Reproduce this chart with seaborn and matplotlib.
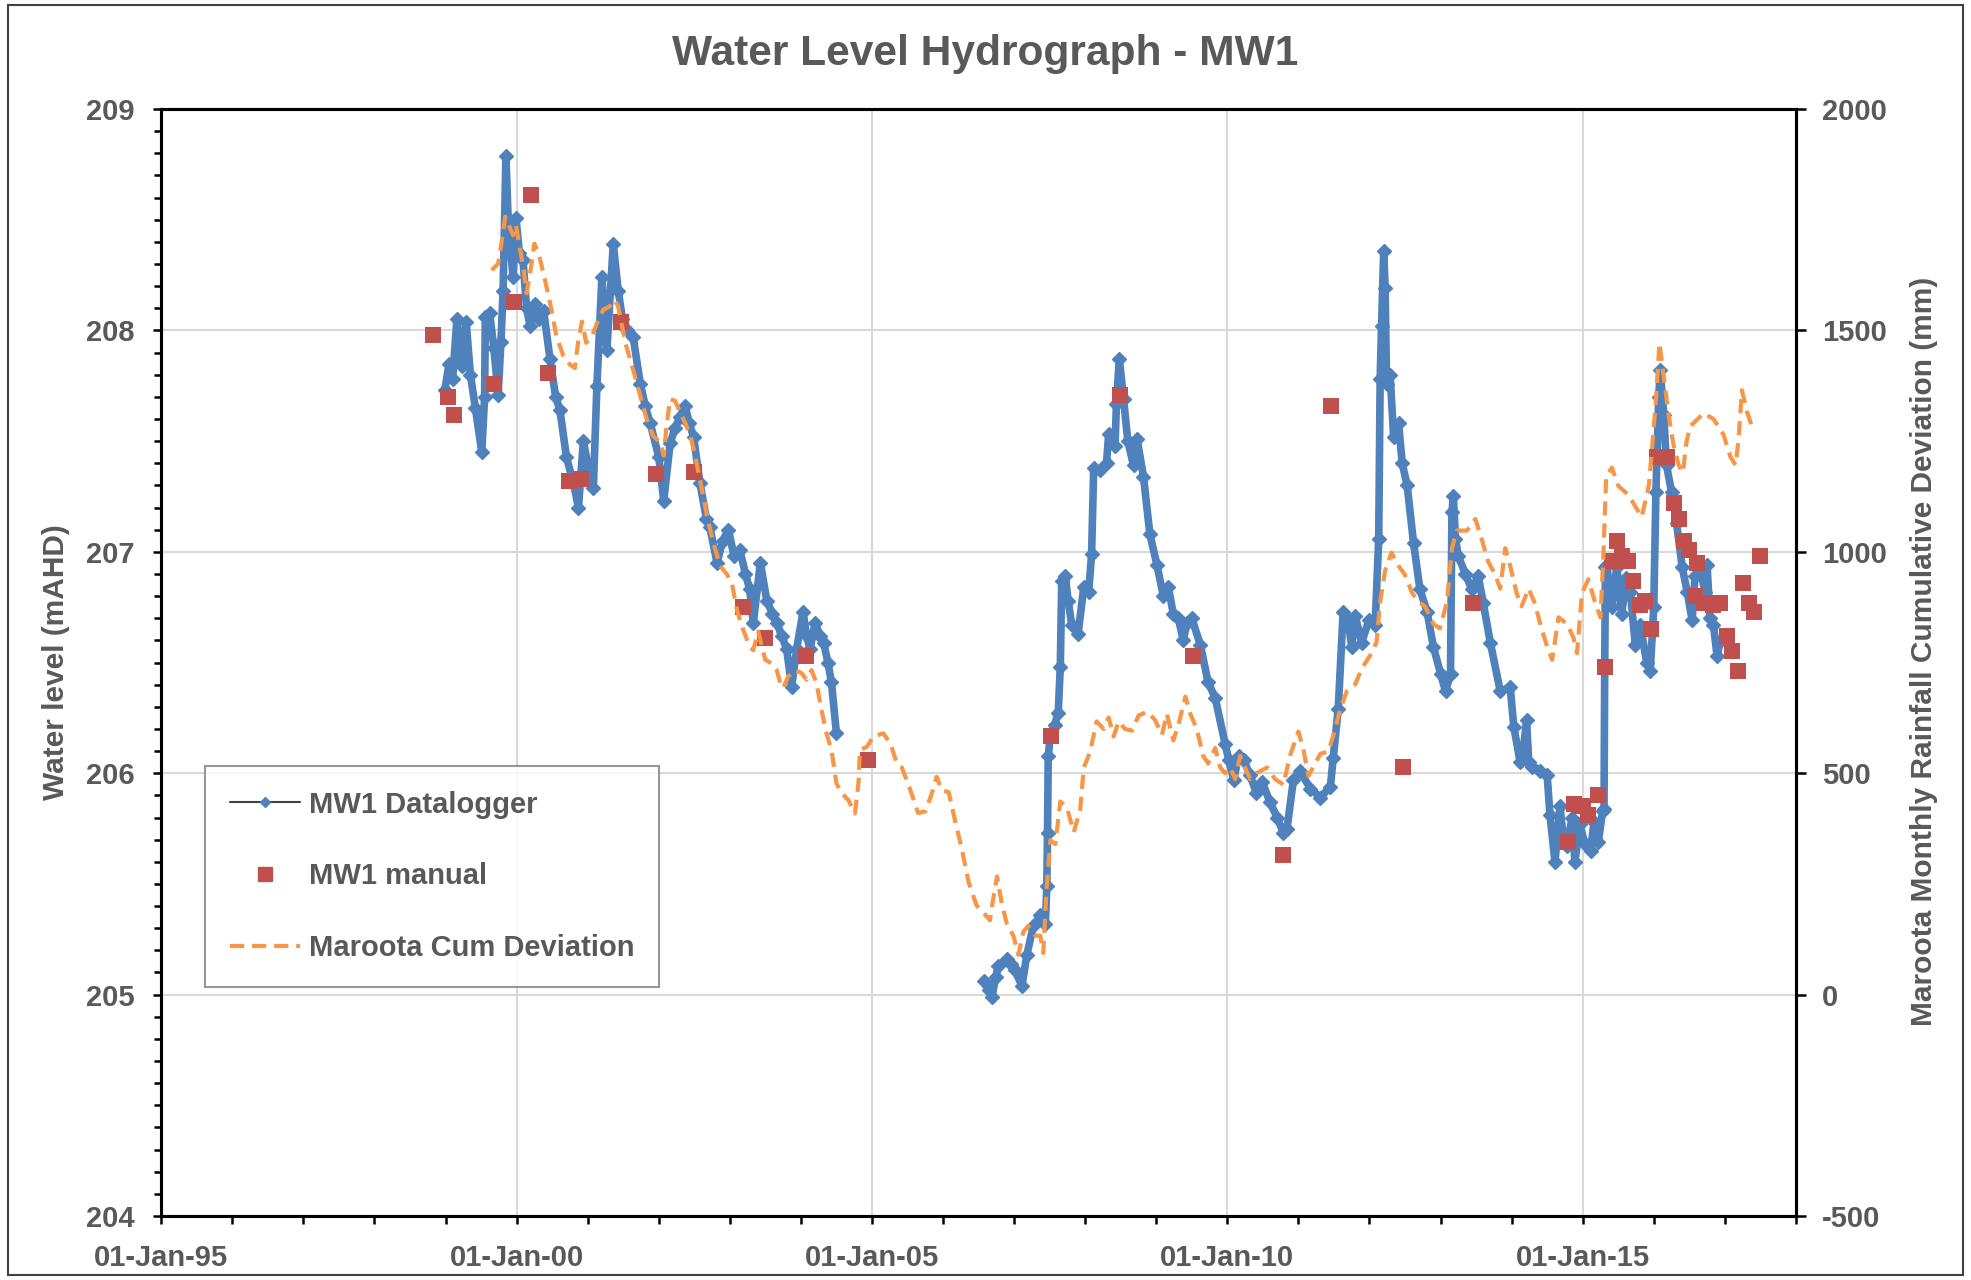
import matplotlib
matplotlib.use("Agg")
from matplotlib import pyplot as plt
import matplotlib.dates as mdates
from matplotlib.lines import Line2D
from matplotlib.patches import Rectangle
import pandas as pd
import numpy as np
import seaborn as sns

# MW1 datalogger (decimal year, water level mAHD)
logger_year = [
    1998.99, 1999.05, 1999.10, 1999.16, 1999.23, 1999.29, 1999.35, 1999.42, 1999.51, 1999.55,
    1999.56, 1999.62, 1999.68, 1999.74, 1999.78, 1999.81, 1999.85, 1999.88, 1999.95, 1999.99,
    2000.04, 2000.09, 2000.14, 2000.19, 2000.26, 2000.32, 2000.38, 2000.47, 2000.55, 2000.61,
    2000.70, 2000.80, 2000.87, 2000.94, 2001.01, 2001.08, 2001.13, 2001.20, 2001.27, 2001.36,
    2001.43, 2001.49, 2001.55, 2001.64, 2001.74, 2001.81, 2001.88, 2002.00, 2002.07, 2002.16,
    2002.23, 2002.30, 2002.37, 2002.43, 2002.49, 2002.58, 2002.67, 2002.72, 2002.82, 2002.90,
    2002.98, 2003.06, 2003.14, 2003.22, 2003.28, 2003.33, 2003.43, 2003.52, 2003.60, 2003.66,
    2003.73, 2003.80, 2003.87, 2003.94, 2004.03, 2004.08, 2004.13, 2004.20, 2004.27, 2004.32,
    2004.38, 2004.43, 2004.50,
    2006.57, 2006.64, 2006.69, 2006.74, 2006.78, 2006.90, 2006.96, 2007.01, 2007.11, 2007.18,
    2007.27, 2007.37, 2007.44, 2007.46, 2007.47, 2007.48, 2007.51, 2007.57, 2007.62, 2007.65,
    2007.67, 2007.72, 2007.76, 2007.81, 2007.90, 2007.98, 2008.05, 2008.09, 2008.12, 2008.21,
    2008.30, 2008.33, 2008.42, 2008.44, 2008.48, 2008.54, 2008.60, 2008.68, 2008.73, 2008.82,
    2008.91, 2009.01, 2009.10, 2009.17, 2009.24, 2009.31, 2009.38, 2009.43, 2009.50, 2009.62,
    2009.73, 2009.83, 2009.97, 2010.02, 2010.09, 2010.16, 2010.23, 2010.32, 2010.41, 2010.49,
    2010.60, 2010.70, 2010.79, 2010.84, 2010.93, 2011.02, 2011.17, 2011.31, 2011.45, 2011.49,
    2011.56, 2011.63, 2011.70, 2011.75, 2011.80, 2011.89, 2011.99, 2012.08, 2012.13, 2012.15,
    2012.17, 2012.20, 2012.22, 2012.24, 2012.29, 2012.34, 2012.41, 2012.46, 2012.53, 2012.62,
    2012.71, 2012.81, 2012.90, 2013.00, 2013.07, 2013.14, 2013.16, 2013.18, 2013.21, 2013.25,
    2013.35, 2013.44, 2013.53, 2013.60, 2013.70, 2013.84, 2013.98, 2014.03, 2014.12, 2014.17,
    2014.21, 2014.24, 2014.28, 2014.40, 2014.50, 2014.54, 2014.61, 2014.68, 2014.73, 2014.78,
    2014.85, 2014.89, 2014.96, 2015.03, 2015.11, 2015.16, 2015.22, 2015.28, 2015.30, 2015.31,
    2015.32, 2015.34, 2015.41, 2015.48, 2015.55, 2015.61, 2015.67, 2015.74, 2015.81, 2015.90,
    2015.95, 2016.00, 2016.03, 2016.07, 2016.09, 2016.14, 2016.18, 2016.25, 2016.32, 2016.40,
    2016.47, 2016.54, 2016.58, 2016.65, 2016.72, 2016.75, 2016.79, 2016.84, 2016.89, 2016.94,
]
logger_level = [
    207.73, 207.85, 207.78, 208.05, 207.84, 208.04, 207.80, 207.65, 207.45, 207.70,
    208.06, 208.08, 207.92, 207.71, 207.95, 208.18, 208.79, 208.51, 208.24, 208.51,
    208.35, 208.32, 208.10, 208.02, 208.12, 208.05, 208.09, 207.87, 207.70, 207.64,
    207.43, 207.31, 207.20, 207.50, 207.38, 207.29, 207.75, 208.24, 207.91, 208.39,
    208.18, 208.05, 208.00, 207.97, 207.76, 207.66, 207.58, 207.43, 207.23, 207.49,
    207.56, 207.61, 207.66, 207.58, 207.52, 207.31, 207.15, 207.11, 206.95, 207.05,
    207.10, 206.98, 207.01, 206.90, 206.83, 206.68, 206.95, 206.78, 206.72, 206.68,
    206.62, 206.56, 206.39, 206.56, 206.73, 206.62, 206.56, 206.68, 206.62, 206.59,
    206.50, 206.41, 206.18,
    205.06, 205.02, 204.99, 205.08, 205.13, 205.16, 205.14, 205.11, 205.04, 205.18,
    205.31, 205.36, 205.32, 205.49, 205.73, 206.08, 206.17, 206.22, 206.27, 206.48,
    206.87, 206.89, 206.78, 206.67, 206.63, 206.84, 206.82, 206.99, 207.38, 207.37,
    207.40, 207.53, 207.48, 207.67, 207.87, 207.69, 207.50, 207.39, 207.51, 207.34,
    207.08, 206.94, 206.80, 206.84, 206.72, 206.70, 206.60, 206.68, 206.70, 206.58,
    206.41, 206.34, 206.13, 206.06, 205.97, 206.08, 206.06, 205.99, 205.91, 205.96,
    205.87, 205.80, 205.73, 205.75, 205.97, 206.01, 205.93, 205.89, 205.94, 206.07,
    206.29, 206.73, 206.69, 206.57, 206.71, 206.59, 206.69, 206.67, 207.06, 207.78,
    208.02, 208.36, 208.19, 207.76, 207.80, 207.52, 207.58, 207.40, 207.30, 207.04,
    206.83, 206.73, 206.57, 206.45, 206.37, 206.45, 207.18, 207.25, 207.06, 206.98,
    206.90, 206.83, 206.89, 206.77, 206.59, 206.37, 206.39, 206.21, 206.05, 206.12,
    206.24, 206.05, 206.03, 206.01, 205.99, 205.81, 205.60, 205.85, 205.70, 205.67,
    205.80, 205.60, 205.77, 205.68, 205.65, 205.78, 205.69, 205.83, 205.84, 206.50,
    206.93, 206.94, 206.75, 206.93, 206.72, 206.88, 206.82, 206.58, 206.67, 206.50,
    206.46, 206.75, 207.27, 207.70, 207.82, 207.62, 207.39, 207.27, 207.13, 206.93,
    206.82, 206.69, 206.89, 206.93, 206.82, 206.94, 206.70, 206.67, 206.53, 206.60,
]

# MW1 manual dips
manual_year = [
    1998.82, 1999.03, 1999.12, 1999.68, 1999.97, 2000.20, 2000.44, 2000.74, 2000.90, 2001.47,
    2001.96, 2002.49, 2003.18, 2003.50, 2004.07, 2004.95, 2007.52, 2008.49, 2009.52, 2010.79,
    2011.46, 2012.47, 2013.46, 2014.80, 2014.88, 2014.96, 2015.01, 2015.07, 2015.21, 2015.32,
    2015.41, 2015.48, 2015.55, 2015.64, 2015.71, 2015.80, 2015.88, 2015.96, 2016.04, 2016.18,
    2016.28, 2016.35, 2016.43, 2016.50, 2016.58, 2016.61, 2016.70, 2016.84, 2016.93, 2017.03,
    2017.10, 2017.18, 2017.26, 2017.34, 2017.41, 2017.49,
]
manual_level = [
    207.98, 207.70, 207.62, 207.76, 208.13, 208.61, 207.81, 207.32, 207.33, 208.04,
    207.35, 207.36, 206.75, 206.61, 206.53, 206.06, 206.17, 207.71, 206.53, 205.63,
    207.66, 206.03, 206.77, 205.69, 205.86, 205.85, 205.85, 205.81, 205.90, 206.48,
    206.96, 207.05, 206.98, 206.96, 206.87, 206.76, 206.78, 206.65, 207.43, 207.43,
    207.22, 207.15, 207.05, 207.01, 206.80, 206.95, 206.77, 206.76, 206.77, 206.62,
    206.55, 206.46, 206.86, 206.77, 206.73, 206.98,
]

# Maroota monthly rainfall cumulative deviation (mm)
rain_year = [
    1999.65, 1999.74, 1999.78, 1999.84, 1999.91, 1999.95, 1999.99, 2000.05, 2000.10, 2000.14,
    2000.19, 2000.25, 2000.31, 2000.40, 2000.49, 2000.56, 2000.66, 2000.75, 2000.82, 2000.87,
    2000.92, 2000.98, 2001.06, 2001.15, 2001.22, 2001.31, 2001.38, 2001.43, 2001.53, 2001.64,
    2001.74, 2001.83, 2001.92, 2002.02, 2002.07, 2002.11, 2002.16, 2002.23, 2002.30, 2002.37,
    2002.46, 2002.53, 2002.60, 2002.68, 2002.77, 2002.86, 2002.96, 2003.03, 2003.10, 2003.19,
    2003.28, 2003.33, 2003.40, 2003.45, 2003.50, 2003.59, 2003.66, 2003.71, 2003.75, 2003.82,
    2003.92, 2004.01, 2004.08, 2004.15, 2004.22, 2004.29, 2004.36, 2004.43, 2004.50, 2004.58,
    2004.67, 2004.76, 2004.81, 2004.83, 2004.93, 2005.02, 2005.16, 2005.26, 2005.35, 2005.42,
    2005.54, 2005.65, 2005.75, 2005.84, 2005.91, 2005.98, 2006.08, 2006.17, 2006.26, 2006.36,
    2006.47, 2006.59, 2006.66, 2006.70, 2006.76, 2006.83, 2006.90, 2006.99, 2007.06, 2007.13,
    2007.20, 2007.30, 2007.37, 2007.41, 2007.46, 2007.51, 2007.58, 2007.65, 2007.74, 2007.84,
    2007.93, 2007.98, 2008.07, 2008.16, 2008.26, 2008.33, 2008.40, 2008.47, 2008.56, 2008.66,
    2008.75, 2008.87, 2008.98, 2009.08, 2009.15, 2009.24, 2009.31, 2009.41, 2009.48, 2009.57,
    2009.66, 2009.73, 2009.83, 2009.90, 2009.97, 2010.04, 2010.11, 2010.18, 2010.32, 2010.41,
    2010.56, 2010.67, 2010.79, 2010.88, 2011.00, 2011.07, 2011.14, 2011.21, 2011.31, 2011.42,
    2011.49, 2011.59, 2011.68, 2011.80, 2011.89, 2012.01, 2012.10, 2012.15, 2012.22, 2012.31,
    2012.41, 2012.50, 2012.60, 2012.69, 2012.78, 2012.90, 2012.99, 2013.09, 2013.16, 2013.23,
    2013.37, 2013.49, 2013.58, 2013.67, 2013.77, 2013.84, 2013.91, 2013.98, 2014.07, 2014.14,
    2014.24, 2014.33, 2014.42, 2014.50, 2014.57, 2014.66, 2014.78, 2014.87, 2014.92, 2014.99,
    2015.08, 2015.18, 2015.25, 2015.29, 2015.33, 2015.41, 2015.50, 2015.64, 2015.83, 2015.93,
    2015.97, 2016.03, 2016.08, 2016.14, 2016.21, 2016.28, 2016.35, 2016.41, 2016.46, 2016.51,
    2016.70, 2016.84, 2016.98, 2017.08, 2017.15, 2017.19, 2017.24, 2017.31, 2017.40,
]
rain_dev = [
    1636, 1651, 1690, 1757, 1730, 1715, 1738, 1682, 1636, 1584,
    1629, 1696, 1674, 1614, 1547, 1487, 1442, 1423, 1415, 1479,
    1520, 1472, 1487, 1524, 1547, 1554, 1569, 1554, 1472, 1411,
    1352, 1300, 1262, 1247, 1217, 1285, 1345, 1341, 1315, 1292,
    1254, 1202, 1147, 1080, 1020, 969, 949, 929, 868, 823,
    786, 778, 820, 786, 756, 748, 733, 703, 692, 718,
    733, 726, 711, 733, 703, 643, 590, 553, 477, 454,
    439, 409, 477, 552, 560, 583, 590, 567, 522, 513,
    462, 410, 414, 453, 492, 462, 457, 392, 332, 254,
    202, 181, 168, 211, 267, 202, 159, 133, 90, 142,
    155, 133, 133, 94, 246, 349, 340, 436, 423, 367,
    418, 513, 548, 617, 600, 626, 583, 617, 600, 596,
    630, 639, 621, 587, 634, 574, 608, 673, 634, 600,
    539, 522, 557, 513, 500, 513, 487, 539, 487, 500,
    513, 487, 474, 539, 594, 554, 494, 514, 544, 549,
    585, 645, 685, 701, 736, 766, 796, 887, 958, 998,
    968, 948, 907, 887, 877, 837, 827, 887, 1008, 1048,
    1048, 1074, 1028, 978, 948, 917, 1008, 968, 907, 877,
    917, 882, 827, 786, 756, 852, 837, 806, 771, 907,
    938, 882, 852, 988, 1169, 1190, 1149, 1129, 1079, 1149,
    1222, 1343, 1472, 1395, 1308, 1239, 1196, 1179, 1248, 1283,
    1313, 1300, 1265, 1214, 1196, 1248, 1365, 1317, 1274,
]


def to_date(years):
    yrs = np.asarray(years, dtype=float)
    return pd.Timestamp("1995-01-01") + pd.to_timedelta((yrs - 1995) * 365.25, unit="D")


blue = "#4F81BD"
red = "#C0504D"
orange = "#F79646"
grey_txt = "#595959"
dash = (0, (3.4, 1.9))

sns.set_theme(style="white")
plt.rcParams['font.family'] = ['Liberation Sans', 'DejaVu Sans']
plt.rcParams['font.weight'] = 'bold'
plt.rcParams['axes.unicode_minus'] = False

logger = pd.DataFrame({'date': to_date(logger_year), 'level': logger_level})
logger['segment'] = (np.diff(np.asarray(logger_year), prepend=logger_year[0]) > 1).cumsum()
manual = pd.DataFrame({'date': to_date(manual_year), 'level': manual_level})
rain = pd.DataFrame({'date': to_date(rain_year), 'dev': rain_dev})

fig = plt.figure(figsize=(19.71, 12.8), dpi=100)
ax = fig.add_axes([0.0818, 0.05, 0.8294, 0.8648])

for seg, part in logger.groupby('segment'):
    # thin black connecting line, then the dense blue diamond band on top
    sns.lineplot(data=part, x='date', y='level', ax=ax, sort=False, estimator=None,
                 color='black', lw=1.0, zorder=2)
    ax.plot(part['date'], part['level'], color=blue, lw=5.5, solid_capstyle='round',
            solid_joinstyle='round', marker='D', markersize=7, markerfacecolor=blue,
            markeredgecolor=blue, zorder=3)

sns.scatterplot(data=manual, x='date', y='level', ax=ax, marker='s', s=140,
                color=red, edgecolor=red, linewidth=0, zorder=4)

ax2 = ax.twinx()
sns.lineplot(data=rain, x='date', y='dev', ax=ax2, sort=False, estimator=None,
             color=orange, lw=3.0, linestyle=dash)

ax.set_xlim(pd.Timestamp("1995-01-01"), pd.Timestamp("2018-01-01"))
ax.set_ylim(204, 209)
ax2.set_ylim(-500, 2000)
ax.set_yticks([204, 205, 206, 207, 208, 209])
ax.set_yticks(np.arange(204, 209.01, 0.1), minor=True)
ax2.set_yticks([-500, 0, 500, 1000, 1500, 2000])
ax.xaxis.set_major_locator(mdates.YearLocator(5))
ax.xaxis.set_minor_locator(mdates.YearLocator(1))
ax.xaxis.set_major_formatter(mdates.DateFormatter('%d-%b-%y'))

ax.set_axisbelow(True)
ax.grid(True, which='major', color='#D9D9D9', lw=1.5)
ax2.grid(False)

for a in (ax, ax2):
    for sp in a.spines.values():
        sp.set_color('black')
        sp.set_linewidth(2.2)
    a.tick_params(which='both', direction='out', colors='black', labelcolor=grey_txt,
                  labelsize=21, width=1.8)
ax.tick_params(axis='y', which='major', length=6, pad=13)
ax.tick_params(axis='y', which='minor', length=5, left=True)
ax.tick_params(axis='x', which='both', length=6, pad=14, bottom=True)
ax2.tick_params(axis='y', which='major', length=7, pad=12, right=True)
for lab in ax.get_xticklabels() + ax.get_yticklabels() + ax2.get_yticklabels():
    lab.set_fontweight('bold')

ax.set_xlabel("")
ax.set_ylabel("Water level (mAHD)", fontsize=21.5, fontweight='bold', color=grey_txt)
ax.yaxis.set_label_coords(-0.056, 0.5)
ax2.set_ylabel("Maroota Monthly Rainfall Cumulative Deviation (mm)", fontsize=21.5,
               fontweight='bold', color=grey_txt)
ax2.yaxis.set_label_coords(1.0697, 0.51)

fig.text(0.5, 0.958, "Water Level Hydrograph - MW1", ha='center', va='center',
         fontsize=30.6, fontweight='bold', color=grey_txt)

handles = [
    Line2D([], [], color='#404040', lw=1.5, marker='D', markersize=5,
           markerfacecolor=blue, markeredgecolor=blue),
    Line2D([], [], color=red, lw=0, marker='s', markersize=10.5),
    Line2D([], [], color=orange, lw=3.0, linestyle=dash),
]
labels = ["MW1 Datalogger", "MW1 manual", "Maroota Cum Deviation"]
leg = ax2.legend(handles, labels, loc='lower left', bbox_to_anchor=(0.027, 0.207),
                 borderaxespad=0, fancybox=False, frameon=True, handlelength=2.4,
                 handletextpad=0.3, labelspacing=1.5, borderpad=0.85,
                 prop={'size': 21, 'weight': 'bold'})
leg.get_frame().set_edgecolor('#7F7F7F')
leg.get_frame().set_linewidth(1.5)
for t in leg.get_texts():
    t.set_color(grey_txt)

fig.patches.append(Rectangle((8 / 1971, 5 / 1280), 1955 / 1971, 1270 / 1280,
                             transform=fig.transFigure, fill=False,
                             edgecolor='#404040', lw=1.5))

fig.savefig("out.png", dpi=100)
